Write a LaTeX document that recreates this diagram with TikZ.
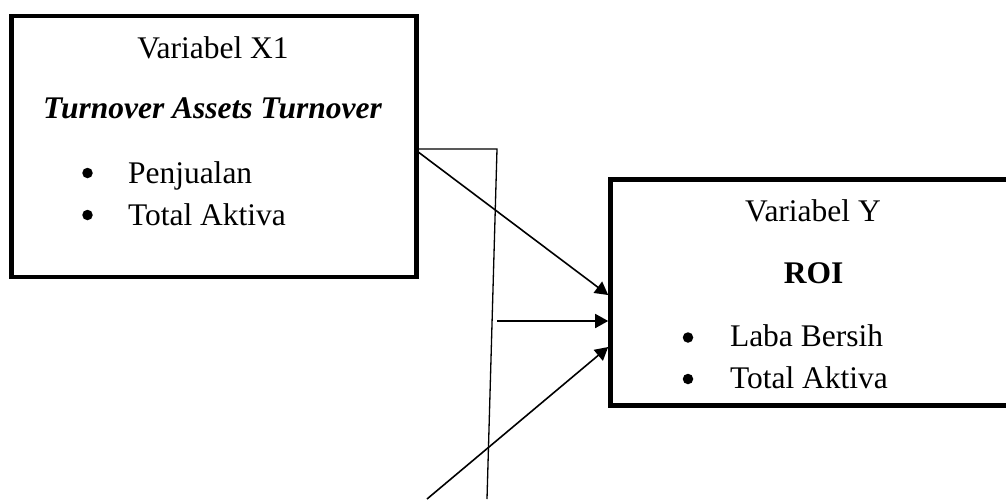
\documentclass[tikz,border=0pt]{standalone}
\usepackage{fontspec}
\setmainfont{Liberation Serif}
\usetikzlibrary{arrows.meta,calc}
\tikzset{
  varbox/.style={draw, line width=4.5pt, minimum width=405pt, minimum height=#1, inner sep=0pt, outer sep=0pt},
  lbl/.style={inner sep=0pt, outer sep=0pt, font=\fontsize{31.5}{38}\selectfont},
  dot/.style={circle, fill, inner sep=0pt, minimum size=10.5pt},
  conn/.style={line width=1.6pt, -{Triangle[length=13pt,width=14pt]}},
  plain/.style={line width=1.3pt},
}
\begin{document}
\begin{tikzpicture}[x=1pt,y=-1pt]
\useasboundingbox (0,0) rectangle (1006,499);
\clip (0,0) rectangle (1006,499);
% boxes
\node[varbox=261pt] (b1) at (214.2,146.4) {};
\node[varbox=226pt] (b2) at (813,292.6) {};
% box 1 text
\node[lbl, anchor=base] (t1) at (213,58) {Variabel X1};
\node[lbl, anchor=base] (t2) at (212.5,118) {\bfseries\itshape Turnover Assets Turnover};
\node[dot] (d1) at (87.5,173) {};
\node[lbl, anchor=base west] (t3) at (128,183) {Penjualan};
\node[dot] (d2) at (87.5,215) {};
\node[lbl, anchor=base west] (t4) at (128,225) {Total Aktiva};
% box 2 text
\node[lbl, anchor=base] (u1) at (813,221.7) {Variabel Y};
\node[lbl, anchor=base] (u2) at (813.5,283) {\bfseries ROI};
\node[dot] (e1) at (688,337.5) {};
\node[lbl, anchor=base west] (u3) at (730,346.5) {Laba Bersih};
\node[dot] (e2) at (688,379) {};
\node[lbl, anchor=base west] (u4) at (730,388) {Total Aktiva};
% connector points
\coordinate (k1) at (497,149);
\coordinate (k2) at (487,499);
\coordinate (s2) at (497,321);
\coordinate (s3) at (427,499);
% connectors
\draw[plain] ($(b1.east)+(1.5,2.6)$) -- (k1) -- (k2);
\draw[conn] ($(b1.east)+(1.5,5.6)$) -- ($(b2.west)+(-2.3,2.4)$);
\draw[conn] (s2) -- ($(b2.west)+(-2.3,28.4)$);
\draw[conn] (s3) -- ($(b2.west)+(-2.3,54.4)$);
\end{tikzpicture}
\end{document}
